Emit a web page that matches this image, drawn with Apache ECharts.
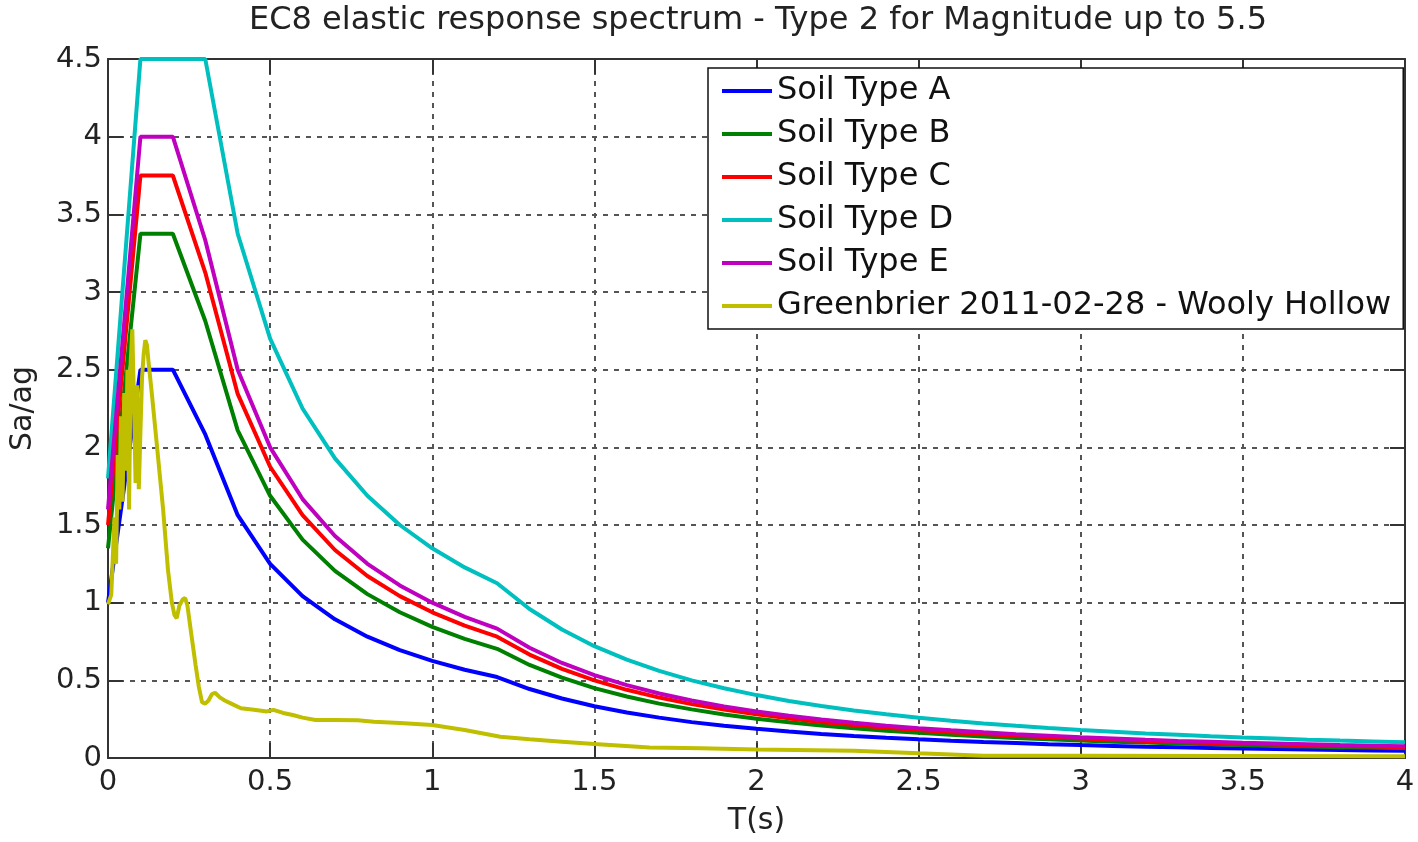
<!DOCTYPE html>
<html>
<head>
<meta charset="utf-8">
<title>EC8 elastic response spectrum</title>
<script src="https://cdn.jsdelivr.net/npm/echarts@6/dist/echarts.min.js"></script>
<style>
  html, body { margin: 0; padding: 0; background: #fff; }
  #chart { width: 1418px; height: 842px; }
</style>
</head>
<body>
<div id="chart"></div>
<script>
// periods used by the EC8 curves (s)
var periods = [0, 0.1, 0.2, 0.3, 0.4, 0.5, 0.6, 0.7, 0.8, 0.9, 1.0, 1.1, 1.2, 1.3, 1.4, 1.5, 1.6, 1.7, 1.8, 1.9, 2.0,
  2.1, 2.2, 2.3, 2.4, 2.5, 2.6, 2.7, 2.8, 2.9, 3.0, 3.1, 3.2, 3.3, 3.4, 3.5, 3.6, 3.7, 3.8, 3.9, 4.0]

// Sa/ag
var soilA = [1.0, 2.5, 2.5, 2.083, 1.563, 1.25, 1.042, 0.893, 0.781, 0.694, 0.625, 0.568, 0.521, 0.444, 0.383, 0.333,
  0.293, 0.260, 0.231, 0.208, 0.188, 0.170, 0.155, 0.142, 0.130, 0.120, 0.111, 0.103, 0.096, 0.089, 0.083,
  0.078, 0.073, 0.069, 0.065, 0.061, 0.058, 0.055, 0.052, 0.049, 0.047]
var soilB = [1.35, 3.375, 3.375, 2.813, 2.109, 1.688, 1.406, 1.205, 1.055, 0.938, 0.844, 0.767, 0.703, 0.599, 0.517, 0.45,
  0.396, 0.350, 0.313, 0.280, 0.253, 0.230, 0.209, 0.191, 0.176, 0.162, 0.150, 0.139, 0.129, 0.120, 0.113,
  0.105, 0.099, 0.093, 0.088, 0.083, 0.078, 0.074, 0.070, 0.067, 0.063]
var soilC = [1.5, 3.75, 3.75, 3.125, 2.344, 1.875, 1.563, 1.339, 1.172, 1.042, 0.938, 0.852, 0.781, 0.666, 0.574, 0.5,
  0.439, 0.389, 0.347, 0.312, 0.281, 0.255, 0.232, 0.213, 0.195, 0.18, 0.166, 0.154, 0.143, 0.134, 0.125,
  0.117, 0.110, 0.103, 0.097, 0.092, 0.087, 0.082, 0.078, 0.074, 0.070]
var soilD = [1.8, 4.5, 4.5, 4.5, 3.375, 2.7, 2.25, 1.929, 1.688, 1.5, 1.35, 1.227, 1.125, 0.959, 0.827, 0.72,
  0.633, 0.561, 0.5, 0.449, 0.405, 0.367, 0.335, 0.306, 0.281, 0.259, 0.240, 0.222, 0.207, 0.193, 0.18,
  0.169, 0.158, 0.149, 0.140, 0.132, 0.125, 0.118, 0.112, 0.107, 0.101]
var soilE = [1.6, 4.0, 4.0, 3.333, 2.5, 2.0, 1.667, 1.429, 1.25, 1.111, 1.0, 0.909, 0.833, 0.710, 0.612, 0.533,
  0.469, 0.415, 0.370, 0.332, 0.3, 0.272, 0.248, 0.227, 0.208, 0.192, 0.178, 0.165, 0.153, 0.143, 0.133,
  0.125, 0.117, 0.110, 0.104, 0.098, 0.093, 0.088, 0.083, 0.079, 0.075]

// Greenbrier record spectrum
var recT = [0, 0.01, 0.02, 0.025, 0.03, 0.035, 0.04, 0.045, 0.05, 0.055, 0.06, 0.065, 0.07, 0.075, 0.08, 0.085,
  0.09, 0.095, 0.1, 0.105, 0.11, 0.115, 0.12, 0.125, 0.135, 0.15, 0.17, 0.185, 0.197, 0.205, 0.212, 0.22,
  0.23, 0.238, 0.245, 0.258, 0.27, 0.28, 0.29, 0.3, 0.31, 0.32, 0.33, 0.345, 0.36, 0.38, 0.41, 0.45, 0.49,
  0.51, 0.54, 0.57, 0.6, 0.64, 0.7, 0.77, 0.82, 0.9, 1.0, 1.1, 1.21, 1.3, 1.4, 1.5, 1.67, 1.83, 2.0, 2.3,
  2.5, 2.7, 3.0, 3.5, 4.0]
var recSa = [0.99, 1.05, 1.55, 1.25, 1.95, 1.6, 2.2, 1.65, 2.35, 1.85, 2.5, 1.6, 2.55, 2.76, 2.3, 1.77,
  2.4, 1.73, 2.1, 2.45, 2.6, 2.69, 2.66, 2.55, 2.35, 2.03, 1.6, 1.21, 1.0, 0.92, 0.9, 0.98,
  1.02, 1.03, 0.98, 0.78, 0.6, 0.46, 0.36, 0.35, 0.37, 0.41, 0.42, 0.39, 0.37, 0.35, 0.32, 0.31, 0.30,
  0.31, 0.29, 0.277, 0.26, 0.245, 0.245, 0.243, 0.234, 0.225, 0.213, 0.18, 0.137, 0.12, 0.105, 0.09, 0.068, 0.062, 0.055, 0.047,
  0.03, 0.015, 0.014, 0.013, 0.012]

var names = ['Soil Type A', 'Soil Type B', 'Soil Type C', 'Soil Type D', 'Soil Type E', 'Greenbrier 2011-02-28 - Wooly Hollow']
var colors = ['#0000ff', '#008000', '#ff0000', '#00bfbf', '#bf00bf', '#bfbf00']

function pairs(xs, ys) {
  return xs.map(function (x, i) { return [x, ys[i]] })
}

var curves = [soilA, soilB, soilC, soilD, soilE]
var series = curves.map(function (ys, i) {
  return { name: names[i], type: 'line', data: pairs(periods, ys) }
})
series.push({ name: names[5], type: 'line', data: pairs(recT, recSa) })
series.forEach(function (s, i) {
  s.showSymbol = false
  s.symbol = 'none'
  s.color = colors[i]
  s.lineStyle = { width: 4, color: colors[i] }
  s.z = 3 + i
})

var font = 'DejaVu Sans'
var gridLine = { show: true, lineStyle: { color: '#555', width: 2, type: [5, 6] } }
var frame = { show: true, onZero: false, lineStyle: { color: '#333', width: 2 } }
var ticks = { show: true, inside: true, length: 15, lineStyle: { color: '#333', width: 2 } }

var chart = echarts.init(document.getElementById('chart'))
chart.setOption({
  animation: false,
  backgroundColor: '#fff',
  title: {
    text: 'EC8 elastic response spectrum - Type 2 for Magnitude up to 5.5',
    left: 753,
    textAlign: 'center',
    top: 0,
    textStyle: { fontFamily: font, fontSize: 32, fontWeight: 'normal', color: '#222' }
  },
  grid: { left: 106, right: 13, top: 59, bottom: 84 },
  legend: {
    orient: 'vertical',
    left: 708,
    top: 68,
    padding: [7, 12, 7, 14],
    itemGap: 11,
    itemWidth: 50,
    itemHeight: 4,
    icon: 'rect',
    backgroundColor: '#fff',
    borderColor: '#111',
    borderWidth: 1.5,
    borderRadius: 0,
    textStyle: { fontFamily: font, fontSize: 32, lineHeight: 30, color: '#111' },
    data: names
  },
  xAxis: [{
    type: 'value', min: 0, max: 4, interval: 0.5,
    name: 'T(s)', nameLocation: 'middle', nameGap: 48,
    nameTextStyle: { fontFamily: font, fontSize: 30, color: '#222' },
    axisLine: frame, axisTick: ticks, splitLine: gridLine,
    axisLabel: { fontFamily: font, fontSize: 29, color: '#222', margin: 10 }
  }, {
    type: 'value', min: 0, max: 4, interval: 0.5, position: 'top',
    axisLine: frame, axisTick: ticks, splitLine: { show: false }, axisLabel: { show: false }
  }],
  yAxis: [{
    type: 'value', min: 0, max: 4.5, interval: 0.5,
    name: 'Sa/ag', nameLocation: 'middle', nameGap: 70,
    nameTextStyle: { fontFamily: font, fontSize: 30, color: '#222' },
    axisLine: frame, axisTick: ticks, splitLine: gridLine,
    axisLabel: { fontFamily: font, fontSize: 29, color: '#222', margin: 6 }
  }, {
    type: 'value', min: 0, max: 4.5, interval: 0.5, position: 'right',
    axisLine: frame, axisTick: ticks, splitLine: { show: false }, axisLabel: { show: false }
  }],
  series: series
})
</script>
</body>
</html>
